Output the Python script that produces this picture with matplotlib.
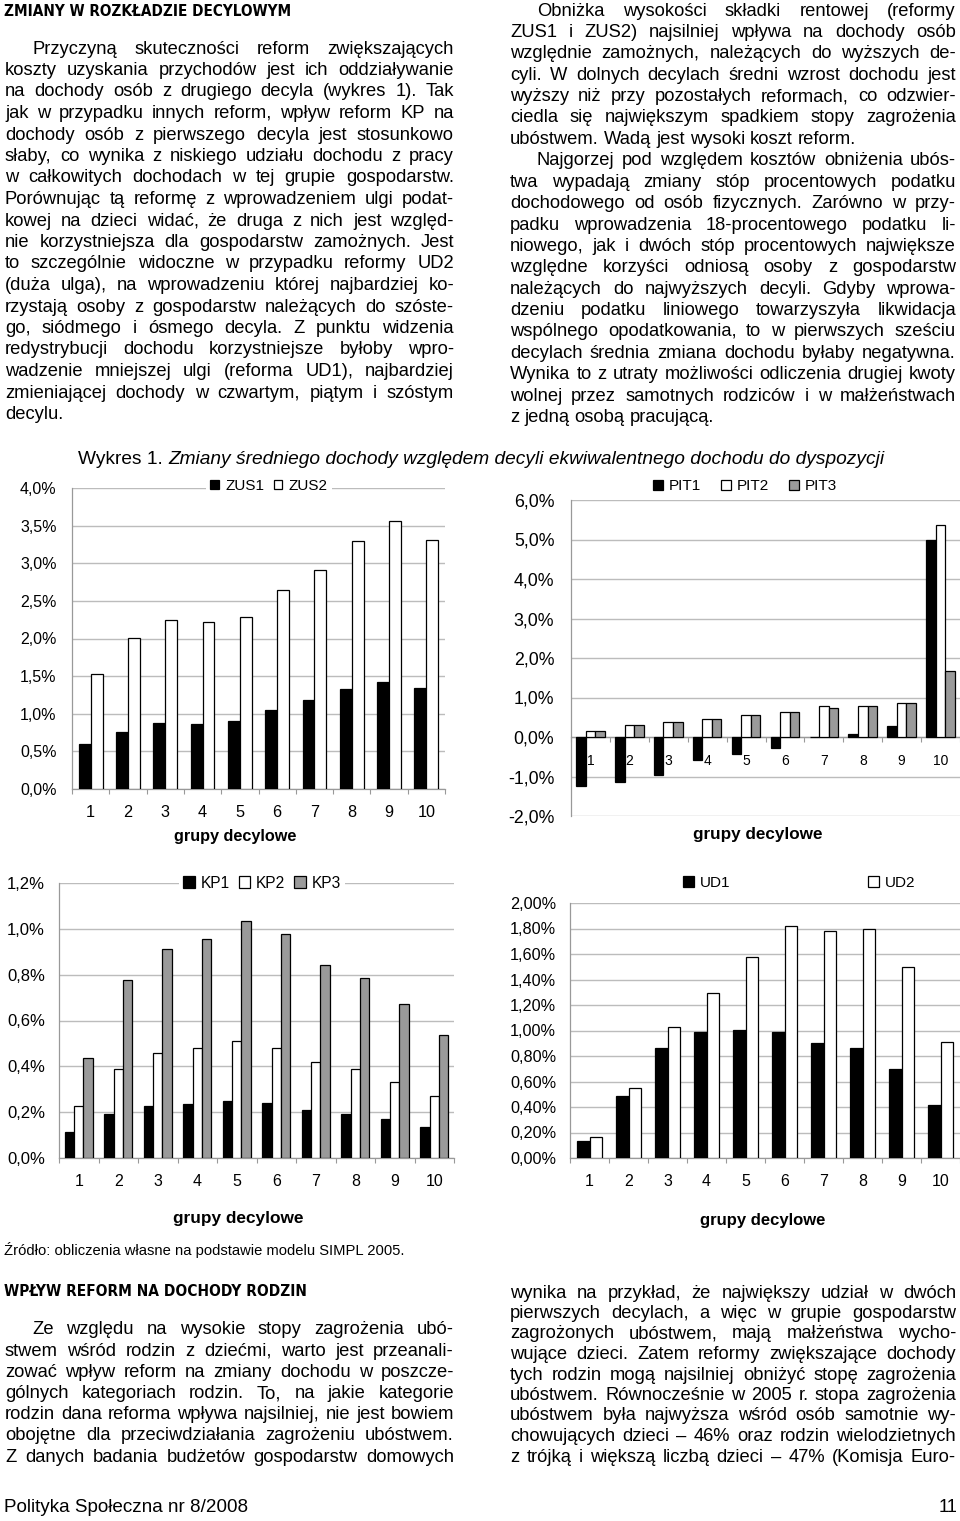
import numpy as np
import matplotlib.pyplot as plt
from matplotlib import font_manager

plt.rcParams['font.family'] = ['Liberation Sans', 'DejaVu Sans']

# ---- data ----
deciles = [str(i) for i in range(1, 11)]
zus1 = [0.60, 0.76, 0.88, 0.86, 0.90, 1.05, 1.18, 1.33, 1.42, 1.34]
zus2 = [1.53, 2.01, 2.25, 2.22, 2.29, 2.64, 2.91, 3.29, 3.56, 3.31]
pit1 = [-1.25, -1.14, -0.95, -0.57, -0.42, -0.28, 0.0, 0.08, 0.28, 5.00]
pit2 = [0.15, 0.30, 0.37, 0.45, 0.56, 0.63, 0.79, 0.79, 0.86, 5.37]
pit3 = [0.15, 0.30, 0.37, 0.45, 0.56, 0.63, 0.74, 0.79, 0.86, 1.68]
kp1 = [0.113, 0.190, 0.227, 0.234, 0.250, 0.241, 0.208, 0.192, 0.172, 0.135]
kp2 = [0.225, 0.388, 0.460, 0.480, 0.509, 0.480, 0.417, 0.388, 0.333, 0.269]
kp3 = [0.438, 0.778, 0.912, 0.954, 1.033, 0.976, 0.841, 0.785, 0.672, 0.538]
ud1 = [0.130, 0.490, 0.863, 0.990, 1.004, 0.990, 0.900, 0.863, 0.696, 0.412]
ud2 = [0.164, 0.550, 1.027, 1.296, 1.578, 1.823, 1.784, 1.797, 1.500, 0.907]

title_a = "Wykres 1. "
title_b = "Zmiany średniego dochody względem decyli ekwiwalentnego dochodu do dyspozycji"
xlab = "grupy decylowe"
source = "Źródło: obliczenia własne na podstawie modelu SIMPL 2005."
footer = "Polityka Społeczna nr 8/2008"
page_no = "11"

head1 = "ZMIANY W ROZKŁADZIE DECYLOWYM"
col1 = [
    "Przyczyną skuteczności reform zwiększających",
    "koszty uzyskania przychodów jest ich oddziaływanie",
    "na dochody osób z drugiego decyla (wykres 1). Tak",
    "jak w przypadku innych reform, wpływ reform KP na",
    "dochody osób z pierwszego decyla jest stosunkowo",
    "słaby, co wynika z niskiego udziału dochodu z pracy",
    "w całkowitych dochodach w tej grupie gospodarstw.",
    "Porównując tą reformę z wprowadzeniem ulgi podat-",
    "kowej na dzieci widać, że druga z nich jest względ-",
    "nie korzystniejsza dla gospodarstw zamożnych. Jest",
    "to szczególnie widoczne w przypadku reformy UD2",
    "(duża ulga), na wprowadzeniu której najbardziej ko-",
    "rzystają osoby z gospodarstw należących do szóste-",
    "go, siódmego i ósmego decyla. Z punktu widzenia",
    "redystrybucji dochodu korzystniejsze byłoby wpro-",
    "wadzenie mniejszej ulgi (reforma UD1), najbardziej",
    "zmieniającej dochody w czwartym, piątym i szóstym",
    "decylu.",
]
col2 = [
    "Obniżka wysokości składki rentowej (reformy",
    "ZUS1 i ZUS2) najsilniej wpływa na dochody osób",
    "względnie zamożnych, należących do wyższych de-",
    "cyli. W dolnych decylach średni wzrost dochodu jest",
    "wyższy niż przy pozostałych reformach, co odzwier-",
    "ciedla się największym spadkiem stopy zagrożenia",
    "ubóstwem. Wadą jest wysoki koszt reform.",
    "Najgorzej pod względem kosztów obniżenia ubós-",
    "twa wypadają zmiany stóp procentowych podatku",
    "dochodowego od osób fizycznych. Zarówno w przy-",
    "padku wprowadzenia 18-procentowego podatku li-",
    "niowego, jak i dwóch stóp procentowych największe",
    "względne korzyści odniosą osoby z gospodarstw",
    "należących do najwyższych decyli. Gdyby wprowa-",
    "dzeniu podatku liniowego towarzyszyła likwidacja",
    "wspólnego opodatkowania, to w pierwszych sześciu",
    "decylach średnia zmiana dochodu byłaby negatywna.",
    "Wynika to z utraty możliwości odliczenia drugiej kwoty",
    "wolnej przez samotnych rodziców i w małżeństwach",
    "z jedną osobą pracującą.",
]
head2 = "WPŁYW REFORM NA DOCHODY RODZIN"
col3 = [
    "Ze względu na wysokie stopy zagrożenia ubó-",
    "stwem wśród rodzin z dziećmi, warto jest przeanali-",
    "zować wpływ reform na zmiany dochodu w poszcze-",
    "gólnych kategoriach rodzin. To, na jakie kategorie",
    "rodzin dana reforma wpływa najsilniej, nie jest bowiem",
    "obojętne dla przeciwdziałania zagrożeniu ubóstwem.",
    "Z danych badania budżetów gospodarstw domowych",
]
col4 = [
    "wynika na przykład, że największy udział w dwóch",
    "pierwszych decylach, a więc w grupie gospodarstw",
    "zagrożonych ubóstwem, mają małżeństwa wycho-",
    "wujące dzieci. Zatem reformy zwiększające dochody",
    "tych rodzin mogą najsilniej obniżyć stopę zagrożenia",
    "ubóstwem. Równocześnie w 2005 r. stopa zagrożenia",
    "ubóstwem była najwyższa wśród osób samotnie wy-",
    "chowujących dzieci – 46% oraz rodzin wielodzietnych",
    "z trójką i większą liczbą dzieci – 47% (Komisja Euro-",
]

W, H = 960, 1521
fig = plt.figure(figsize=(W / 100, H / 100), dpi=100)
fig.patch.set_facecolor('white')
renderer = fig.canvas.get_renderer()


def fx(x):
    return x / W


def fy(y):
    return 1 - y / H


def wid(t):
    return t.get_window_extent(renderer).width


def fit(t, target):
    t.set_fontsize(t.get_fontsize() * target / wid(t))


def put_line(s, x0, x1, y, size, justify, indent=0):
    words = s.split(' ')
    ts = [fig.text(0, 0, w, fontsize=size, va='center', ha='left') for w in words]
    ws = [wid(t) for t in ts]
    if justify and len(words) > 1:
        gap = (x1 - x0 - indent - sum(ws)) / (len(words) - 1)
    else:
        gap = 0.278 * size * 100 / 72
    x = x0 + indent
    for t, w in zip(ts, ws):
        t.set_position((fx(x), fy(y)))
        x += w + gap


def column(lines, x0, x1, y0, dy, size, indents=(), lasts=()):
    for i, s in enumerate(lines):
        put_line(s, x0, x1, y0 + i * dy, size, i not in lasts, 27 if i in indents else 0)


# body font size from the tightest line
probe = fig.text(0, 0, col2[17], fontsize=12)
body = 12 * 442 / wid(probe)
probe.remove()

# a narrow bold face for the section headings, if one is installed
names = {(f.name, f.stretch) for f in font_manager.fontManager.ttflist if f.weight in (700, 'bold')}
if ('Liberation Sans Narrow', 'condensed') in names or any(n == 'Liberation Sans Narrow' for n, s in names):
    hkw = dict(family=['Liberation Sans Narrow', 'DejaVu Sans'], fontweight='bold')
    hw1, hw2 = 286, 301
elif any(n == 'DejaVu Sans' and s in ('condensed', 'semi-condensed') for n, s in names):
    hkw = dict(family=['DejaVu Sans'], fontweight='bold', fontstretch='condensed')
    hw1, hw2 = 286, 301
else:
    hkw = dict(family=['Liberation Sans', 'DejaVu Sans'], fontweight='bold')
    hw1, hw2 = 318, 335

t = fig.text(fx(4), fy(11), head1, fontsize=13, va='center', **hkw)
fit(t, hw1)
column(col1, 5, 454, 49, 21.5, body, indents=(0,), lasts=(17,))
column(col2, 510, 956, 11, 21.4, body, indents=(0, 7), lasts=(6, 19))

t = fig.text(fx(4), fy(1291), head2, fontsize=13, va='center', **hkw)
fit(t, hw2)
column(col3, 5, 454, 1330, 21.17, body, indents=(0,))
column(col4, 510, 956, 1293, 20.5, body)

t = fig.text(fx(4), fy(1250), source, fontsize=10.5, va='center')
fit(t, 401)
t = fig.text(fx(4), fy(1508), footer, fontsize=12.5, va='center')
fit(t, 245)
fig.text(fx(957), fy(1508), page_no, fontsize=body, va='center', ha='right')

# chart title: plain + italic
ta = fig.text(fx(78), fy(460), title_a, fontsize=12.5, va='center')
tb = fig.text(0, fy(460), title_b, fontsize=12.5, va='center', style='italic')
k = 807 / (wid(ta) + wid(tb))
ta.set_fontsize(12.5 * k)
tb.set_fontsize(12.5 * k)
tb.set_position((fx(78 + wid(ta)), fy(460)))


def pct(v, d):
    return (('{:.%df}%%' % d).format(v)).replace('.', ',')


def chart(rect, series, names, colors, width, ylim, yticks, dec, ysize, xsize, ypad, xpad,
          leg, zero_axis=False):
    l, tp, r, b = rect
    ax = fig.add_axes([fx(l), fy(b), (r - l) / W, (b - tp) / H])
    x = np.arange(10)
    n = len(series)
    for k, (vals, name, col) in enumerate(zip(series, names, colors)):
        ax.bar(x + (k - (n - 1) / 2) * width, vals, width, color=col, edgecolor='black',
               linewidth=0.9, label=name, zorder=3)
    ax.set_xlim(-0.5, 9.5)
    ax.set_ylim(*ylim)
    ax.set_yticks(yticks)
    ax.set_yticklabels([pct(v, dec) for v in yticks], fontsize=ysize)
    ax.yaxis.grid(True, color='#bcbcbc', linewidth=1)
    ax.set_axisbelow(True)
    ax.tick_params(axis='y', length=0, pad=ypad)
    ax.set_xticks(np.arange(-0.5, 10, 1))
    ax.set_xticklabels([])
    ax.set_xticks(x, minor=True)
    ax.set_xticklabels(deciles, minor=True, fontsize=xsize)
    ax.tick_params(axis='x', which='major', length=3.5, color='#999999', width=0.8)
    ax.tick_params(axis='x', which='minor', length=0, pad=xpad)
    for s in ('top', 'right'):
        ax.spines[s].set_visible(False)
    for s in ('left', 'bottom'):
        ax.spines[s].set_color('#999999')
        ax.spines[s].set_linewidth(0.9)
    if zero_axis:
        ax.spines['bottom'].set_position(('data', 0))
    cx, cy, lsize, hl, tpad, cspace = leg
    lg = ax.legend(loc='center', bbox_to_anchor=(fx(cx), fy(cy)), bbox_transform=fig.transFigure,
                   ncol=n, fontsize=lsize, handlelength=hl, handleheight=hl, handletextpad=tpad,
                   columnspacing=cspace, borderpad=0.25, borderaxespad=0, frameon=True,
                   fancybox=False, framealpha=1)
    lg.get_frame().set_facecolor('white')
    lg.get_frame().set_linewidth(0)
    return ax


BLACK, WHITE, GREY = '#000000', '#ffffff', '#9a9a9a'

chart((72, 488, 445, 789), [zus1, zus2], ['ZUS1', 'ZUS2'], [BLACK, WHITE], 0.32,
      (0, 4), np.arange(0, 4.01, 0.5), 1, 11.5, 11.7, 11, 11.5,
      (269, 486, 11, 0.55, 0.45, 0.6))
chart((571, 500, 960, 816), [pit1, pit2, pit3], ['PIT1', 'PIT2', 'PIT3'], [BLACK, WHITE, GREY],
      0.245, (-2, 6), np.arange(-2, 6.01, 1), 1, 12.8, 13, 12, 12,
      (745, 486, 11, 0.65, 0.4, 1.3), zero_axis=True)
chart((59, 883, 454, 1158), [kp1, kp2, kp3], ['KP1', 'KP2', 'KP3'], [BLACK, WHITE, GREY],
      0.235, (0, 1.2), np.arange(0, 1.201, 0.2), 1, 12, 11.5, 10, 11.5,
      (262, 883, 11.2, 0.75, 0.35, 0.6))
chart((570, 903, 960, 1158), [ud1, ud2], ['UD1', 'UD2'], [BLACK, WHITE], 0.33,
      (0, 2.0), np.arange(0, 2.001, 0.2), 2, 11.7, 11.5, 10, 11.5,
      (799, 883, 11, 0.75, 0.35, 9.0))

for cx, cy, tw in [(235, 836, 123), (758, 835, 130), (238, 1219, 131), (763, 1220, 126)]:
    t = fig.text(fx(cx), fy(cy), xlab, fontsize=11.5, fontweight='bold', ha='center', va='center')
    fit(t, tw)

fig.savefig('out.png', dpi=100, facecolor='white')
